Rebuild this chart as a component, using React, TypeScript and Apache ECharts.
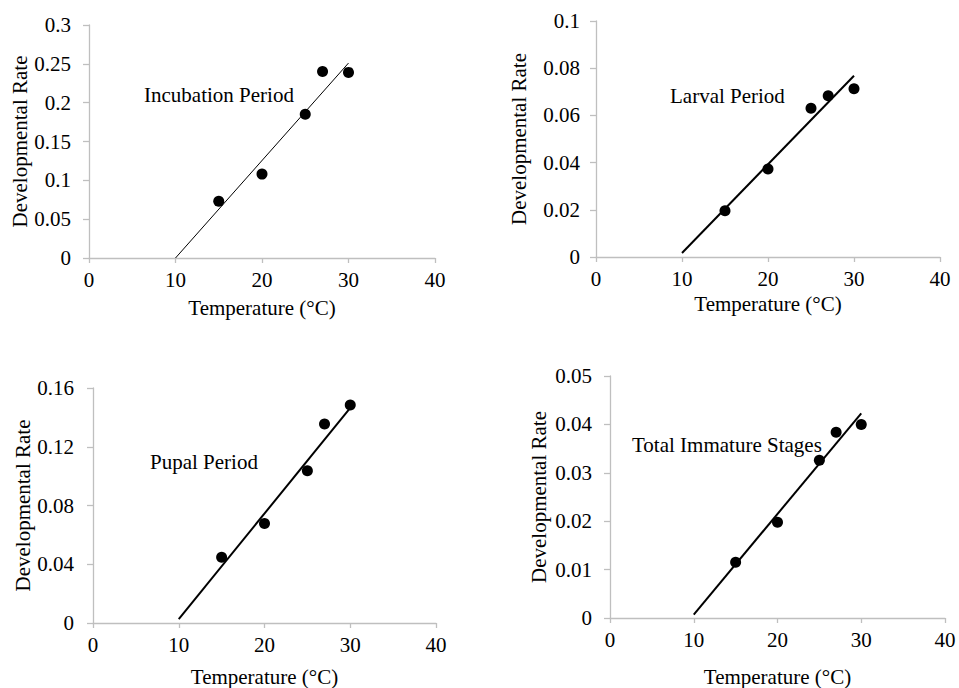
import React, { useEffect, useRef } from "react";
import * as echarts from "echarts";

const temps = [15, 20, 25, 27, 30];
const incubation = [0.073, 0.108, 0.185, 0.24, 0.239];
const larval = [0.0196, 0.0373, 0.063, 0.0683, 0.0713];
const pupal = [0.0447, 0.0678, 0.1037, 0.1355, 0.1484];
const totalImmature = [0.0115, 0.0198, 0.0326, 0.0384, 0.04];

const fitX = [10, 30];
const incubationFit = [0.0, 0.251];
const larvalFit = [0.0017, 0.0768];
const pupalFit = [0.0027, 0.1464];
const totalFit = [0.0007, 0.0423];

const panelTitles = ["Incubation Period", "Larval Period", "Pupal Period", "Total Immature Stages"];
const yMaxes = [0.3, 0.1, 0.16, 0.05];
const yIntervals = [0.05, 0.02, 0.04, 0.01];

const xTitle = "Temperature (°C)";
const yTitle = "Developmental Rate";

const FONT = "Liberation Serif";
const FS = 21;
const AXIS_GRAY = "#BFBFBF";

export default function App() {
  const ref = useRef<HTMLDivElement>(null);

  useEffect(() => {
    document.body.style.margin = "0";
    if (!ref.current) return;
    const chart = echarts.init(ref.current, null, { renderer: "svg" });

    const values = [incubation, larval, pupal, totalImmature];
    const fits = [incubationFit, larvalFit, pupalFit, totalFit];
    const grids = [
      { left: 89, top: 25, width: 346, height: 233 },
      { left: 596, top: 21, width: 344, height: 236 },
      { left: 93, top: 388, width: 343, height: 235 },
      { left: 610, top: 376, width: 335, height: 243 },
    ];
    const xNameGaps = [39, 36, 43, 48];
    const yNameGaps = [58, 67, 59, 61];
    const yLabelMargins = [18, 16, 19, 18];
    const lineWidths = [1, 2, 2, 2];
    const labelPos = [
      { x: 144, y: 95 },
      { x: 670, y: 96 },
      { x: 150, y: 462 },
      { x: 632, y: 445 },
    ];

    const fmt = (v: number) => String(+v.toFixed(4));

    const option: any = {
      animation: false,
      backgroundColor: "#fff",
      textStyle: { fontFamily: FONT, color: "#000" },
      grid: grids.map((g) => ({ ...g, containLabel: false })),
      xAxis: grids.map((_, i) => ({
        type: "value",
        gridIndex: i,
        min: 0,
        max: 40,
        interval: 10,
        name: xTitle,
        nameLocation: "middle",
        nameGap: xNameGaps[i],
        nameTextStyle: { fontFamily: FONT, fontSize: FS, color: "#000" },
        axisLine: { show: true, onZero: false, lineStyle: { color: AXIS_GRAY, width: 1.3 } },
        axisTick: { show: true, inside: false, length: 5, lineStyle: { color: AXIS_GRAY, width: 1.3 } },
        axisLabel: { fontFamily: FONT, fontSize: FS, color: "#000", margin: 11 },
        splitLine: { show: false },
      })),
      yAxis: grids.map((_, i) => ({
        type: "value",
        gridIndex: i,
        min: 0,
        max: yMaxes[i],
        interval: yIntervals[i],
        name: yTitle,
        nameLocation: "middle",
        nameGap: yNameGaps[i],
        nameRotate: 90,
        nameTextStyle: { fontFamily: FONT, fontSize: FS, color: "#000" },
        axisLine: { show: true, onZero: false, lineStyle: { color: AXIS_GRAY, width: 1.3 } },
        axisTick: { show: true, inside: false, length: 6, lineStyle: { color: AXIS_GRAY, width: 1.3 } },
        axisLabel: { fontFamily: FONT, fontSize: FS, color: "#000", margin: yLabelMargins[i], formatter: fmt },
        splitLine: { show: false },
      })),
      series: [
        ...values.map((vals, i) => ({
          type: "scatter",
          xAxisIndex: i,
          yAxisIndex: i,
          symbol: "circle",
          symbolSize: 11,
          itemStyle: { color: "#000", opacity: 1 },
          data: temps.map((t, j) => [t, vals[j]]),
          z: 3,
        })),
        ...fits.map((f, i) => ({
          type: "line",
          xAxisIndex: i,
          yAxisIndex: i,
          showSymbol: false,
          symbol: "none",
          lineStyle: { color: "#000", width: lineWidths[i] },
          data: fitX.map((x, j) => [x, f[j]]),
          z: 2,
        })),
      ],
      graphic: panelTitles.map((t, i) => ({
        type: "text",
        x: labelPos[i].x,
        y: labelPos[i].y,
        style: {
          text: t,
          fontFamily: FONT,
          fontSize: FS,
          fill: "#000",
          verticalAlign: "middle",
        },
      })),
    };

    chart.setOption(option);
    return () => chart.dispose();
  }, []);

  return <div ref={ref} style={{ width: 959, height: 688 }} />;
}
